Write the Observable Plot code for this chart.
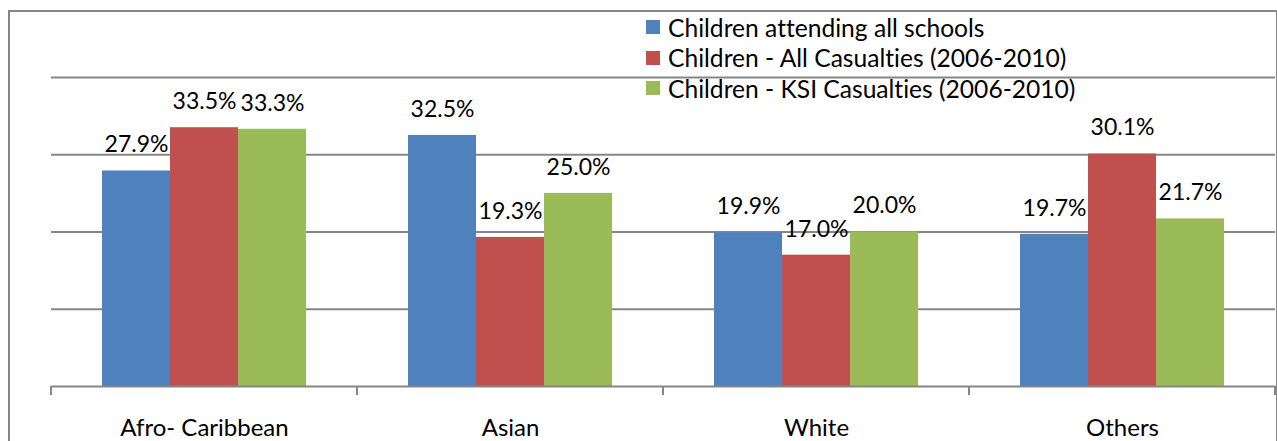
<!DOCTYPE html>
<html>
<head>
<meta charset="utf-8">
<script src="https://cdn.jsdelivr.net/npm/d3@7"></script>
<script src="https://cdn.jsdelivr.net/npm/@observablehq/plot@0.6"></script>
<style>
  html, body { margin: 0; padding: 0; background: #fff; }
  #wrap { position: relative; width: 1277px; height: 441px; overflow: hidden; font-family: Lato, "Open Sans", sans-serif; font-variant-ligatures: none; }
  #wrap svg.chart { position: absolute; left: 0; top: 0; font-variant-ligatures: none; }
  #border { position: absolute; left: 8px; top: 10px; width: 1266px; height: 520px; border: 2px solid #868686; pointer-events: none; }
  #legend { position: absolute; left: 646px; top: 12px; }
  .lg-swatches { font-family: Lato, "Open Sans", sans-serif; font-size: 24.6px; color: #000; margin: 0; font-variant-ligatures: none; }
  .lg-swatch { height: 30.5px; padding-bottom: 0 !important; }
  .lg-swatch > svg { margin-right: 8px; }
</style>
</head>
<body>
<div id="wrap">
  <div id="border"></div>
  <div id="legend"></div>
</div>
<script>
// Share of children by ethnic group: school population vs. road casualties
const categories = ["Afro- Caribbean", "Asian", "White", "Others"];
const series = [
  "Children attending all schools",
  "Children - All Casualties (2006-2010)",
  "Children - KSI Casualties (2006-2010)"
];
const schools = [27.9, 32.5, 19.9, 19.7];
const allCasualties = [33.5, 19.3, 17.0, 30.1];
const ksiCasualties = [33.3, 25.0, 20.0, 21.7];
const gridTicks = [10, 20, 30, 40];
const colors = ["#4F81BD", "#C0504D", "#9BBB59"];

const seriesValues = [schools, allCasualties, ksiCasualties];
const rows = categories.flatMap((category, i) =>
  series.map((s, j) => ({category, series: s, value: seriesValues[j][i]}))
);

const gray = "#868686";

// Short tick marks at the boundaries of each category group
const categoryTicks = (index, scales, values, dims) => {
  const y0 = scales.y(0);
  const g = d3.create("svg:g").attr("stroke", gray).attr("stroke-width", 2);
  for (const x of [dims.marginLeft, dims.width - dims.marginRight]) {
    g.append("line").attr("x1", x).attr("x2", x).attr("y1", y0).attr("y2", y0 + 9);
  }
  return g.node();
};

const chart = Plot.plot({
  width: 1277,
  height: 441,
  marginLeft: 49,
  marginRight: 1,
  marginTop: 77,
  marginBottom: 55,
  className: "chart",
  style: {fontFamily: "Lato, 'Open Sans', sans-serif", fontSize: "24px", background: "transparent", overflow: "visible"},
  fx: {domain: categories, padding: 0, label: null, tickSize: 0, tickPadding: 32},
  x: {domain: series, paddingInner: 0, paddingOuter: 0.75, axis: null},
  y: {domain: [0, 40], axis: null},
  color: {domain: series, range: colors},
  marks: [
    Plot.ruleY(gridTicks, {stroke: gray, strokeWidth: 2}),
    Plot.barY(rows, {fx: "category", x: "series", y: "value", fill: "series"}),
    Plot.ruleY([0], {stroke: gray, strokeWidth: 2}),
    categoryTicks,
    Plot.text(rows, {
      fx: "category", x: "series", y: "value",
      text: d => d.value.toFixed(1) + "%",
      dy: -26, fontSize: 23, fill: "#000"
    })
  ]
});
chart.classList.add("chart");
document.getElementById("wrap").insertBefore(chart, document.getElementById("border"));

const legend = chart.legend("color", {columns: 1, swatchSize: 14, className: "lg"});
document.getElementById("legend").appendChild(legend);
</script>
</body>
</html>
